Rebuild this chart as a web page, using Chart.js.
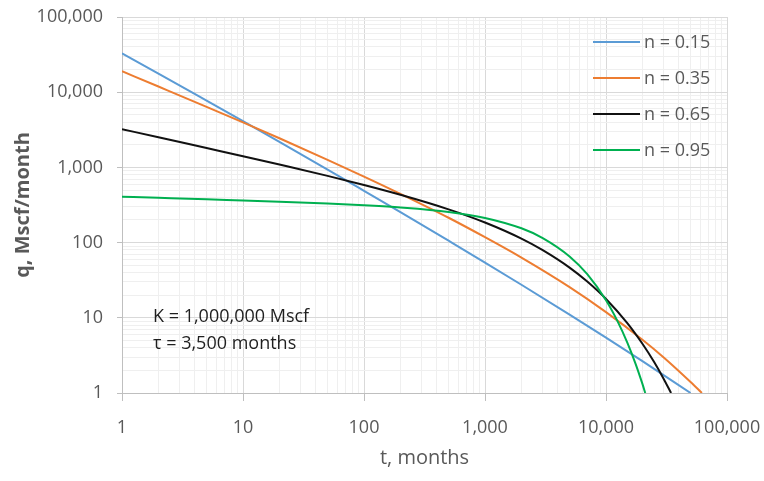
<!DOCTYPE html>
<html>
<head>
<meta charset="utf-8">
<script src="https://cdn.jsdelivr.net/npm/chart.js@4/dist/chart.umd.min.js"></script>
<style>
  html, body { margin: 0; padding: 0; background: #ffffff; }
  #wrap { width: 764px; height: 481px; position: relative; }
</style>
</head>
<body>
<div id="wrap"><canvas id="chart"></canvas></div>
<script>
// Stretched-exponential production-rate curves, q(t), for four exponents n
const seriesNames = ['n = 0.15', 'n = 0.35', 'n = 0.65', 'n = 0.95'];

const tN015 = [1, 2, 5, 10, 20, 50, 100, 200, 500, 1000, 2000, 5000, 10000, 20000, 50000];
const qN015 = [32900, 17700, 7720, 4110, 2180, 935, 489, 255, 106, 54.3, 27.5, 11.0, 5.45, 2.66, 1.0];

const tN035 = [1, 2, 5, 10, 20, 50, 100, 200, 500, 1000, 2000, 5000, 10000, 20000, 30000, 50000, 62000];
const qN035 = [19000, 11900, 6390, 3960, 2440, 1260, 756, 445, 214, 118, 63.2, 25.6, 11.9, 5.11, 2.97, 1.40, 1.0];

const tN065 = [1, 2, 5, 10, 20, 50, 100, 200, 500, 1000, 2000, 3000, 5000, 7000, 10000, 15000, 20000, 25000, 30000, 34500];
const qN065 = [3220, 2520, 1810, 1410, 1090, 771, 584, 433, 277, 185, 113, 79.3, 46.5, 30.3, 17.8, 8.5, 4.52, 2.58, 1.54, 1.0];

const tN095 = [1, 2, 5, 10, 20, 50, 100, 200, 500, 1000, 2000, 3000, 5000, 7000, 10000, 12500, 15000, 17500, 20000, 21100];
const qN095 = [408, 394, 376, 362, 349, 330, 313, 293, 256, 213, 155, 115, 65.5, 38.0, 17.1, 8.9, 4.69, 2.48, 1.32, 1.0];

const xTickValues = [1, 10, 100, 1000, 10000, 100000];
const yTickValues = [1, 10, 100, 1000, 10000, 100000];

const noteLines = ['K = 1,000,000 Mscf', 'τ = 3,500 months'];

const seriesT = [tN015, tN035, tN065, tN095];
const seriesQ = [qN015, qN035, qN065, qN095];
const seriesColors = ['#5b9bd5', '#ed7d31', '#111111', '#00b050'];

const FONT = '"Open Sans", "DejaVu Sans", sans-serif';
const GRAY = '#595959';

function toPoints(ts, qs) {
  return ts.map((t, i) => ({ x: t, y: qs[i] }));
}

function isDecade(v) {
  const l = Math.log10(v);
  return Math.abs(l - Math.round(l)) < 1e-9;
}

// every 1..9 x 10^k tick between the decade bounds, so minor grid lines sit at 2..9
function logTicks(decades) {
  const out = [];
  for (let d = 0; d < decades.length; d++) {
    const base = decades[d];
    if (d === decades.length - 1) { out.push({ value: base }); break; }
    for (let s = 1; s <= 9; s++) out.push({ value: s * base });
  }
  return out;
}

const datasets = seriesNames.map((name, i) => ({
  label: name,
  data: toPoints(seriesT[i], seriesQ[i]),
  borderColor: seriesColors[i],
  backgroundColor: seriesColors[i],
  borderWidth: 2,
  pointRadius: 0,
  fill: false,
  cubicInterpolationMode: 'monotone',
  order: seriesNames.length - i
}));

// in-plot legend and parameter note
const overlayPlugin = {
  id: 'overlay',
  afterDatasetsDraw(chart) {
    const ctx = chart.ctx;
    const area = chart.chartArea;
    ctx.save();
    ctx.font = '18px ' + FONT;
    ctx.textBaseline = 'middle';
    ctx.textAlign = 'left';
    const lx0 = area.right - 134, lx1 = area.right - 87, tx = area.right - 83;
    chart.data.datasets.forEach((ds, i) => {
      const y = area.top + 25 + i * 36;
      ctx.strokeStyle = ds.borderColor;
      ctx.lineWidth = 2;
      ctx.beginPath();
      ctx.moveTo(lx0, y);
      ctx.lineTo(lx1, y);
      ctx.stroke();
      ctx.fillStyle = GRAY;
      ctx.fillText(ds.label, tx, y + 1);
    });
    ctx.fillStyle = '#1f1f1f';
    noteLines.forEach((line, i) => {
      ctx.fillText(line, area.left + 31, area.top + 300 + i * 27);
    });
    ctx.restore();
  }
};

function gridColor(c) {
  return isDecade(c.tick.value) ? '#d9d9d9' : '#efefef';
}
function tickMarkColor(c) {
  return isDecade(c.tick.value) ? '#bfbfbf' : 'rgba(0,0,0,0)';
}
function decadeLabel(v) {
  return isDecade(v) ? Number(v).toLocaleString('en-US') : '';
}

new Chart(document.getElementById('chart'), {
  type: 'line',
  data: { datasets },
  options: {
    responsive: true,
    maintainAspectRatio: false,
    animation: false,
    layout: { padding: { left: 11, right: 37, top: 17, bottom: 11 } },
    plugins: {
      legend: { display: false },
      tooltip: { enabled: false }
    },
    scales: {
      x: {
        type: 'logarithmic',
        min: xTickValues[0],
        max: xTickValues[xTickValues.length - 1],
        afterBuildTicks: (s) => { s.ticks = logTicks(xTickValues); },
        afterFit: (s) => { s.height = 77; s.paddingLeft = 0; s.paddingRight = 0; },
        grid: { color: gridColor, tickColor: tickMarkColor, tickLength: 8, lineWidth: 1 },
        border: { color: '#bfbfbf', width: 1 },
        ticks: {
          autoSkip: false, maxRotation: 0, padding: 16,
          color: GRAY, font: { family: FONT, size: 18 },
          callback: decadeLabel
        },
        title: {
          display: true, text: 't, months', color: GRAY,
          font: { family: FONT, size: 20 }, padding: 0
        }
      },
      y: {
        type: 'logarithmic',
        min: yTickValues[0],
        max: yTickValues[yTickValues.length - 1],
        afterBuildTicks: (s) => { s.ticks = logTicks(yTickValues); },
        afterFit: (s) => { s.width = 111; s.paddingTop = 0; s.paddingBottom = 0; },
        grid: { color: gridColor, tickColor: tickMarkColor, tickLength: 5, lineWidth: 1 },
        border: { color: '#bfbfbf', width: 1 },
        ticks: {
          autoSkip: false, padding: 14,
          color: GRAY, font: { family: FONT, size: 18 },
          callback: decadeLabel
        },
        title: {
          display: true, text: 'q, Mscf/month', color: GRAY,
          font: { family: FONT, size: 20, weight: 'bold' }, padding: 0
        }
      }
    }
  },
  plugins: [overlayPlugin]
});
</script>
</body>
</html>
